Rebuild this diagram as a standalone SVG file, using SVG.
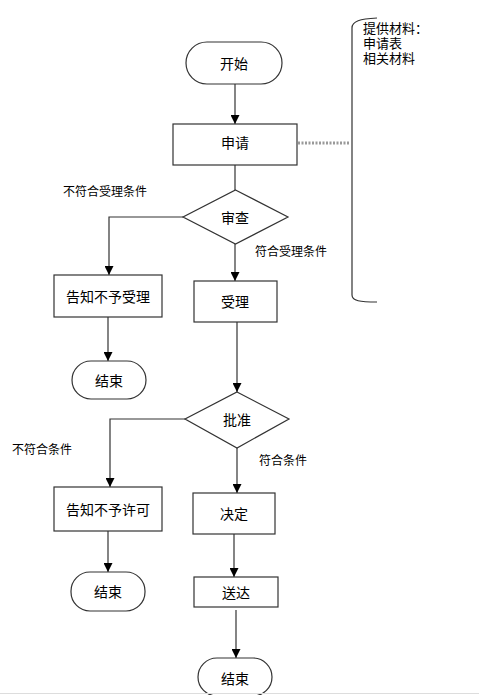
<svg xmlns="http://www.w3.org/2000/svg" width="479" height="695" viewBox="0 0 479 695">
<defs>
<marker id="ah" viewBox="0 0 10 10" refX="10" refY="5" markerWidth="9" markerHeight="9" markerUnits="userSpaceOnUse" orient="auto">
<path d="M0,0 L10,5 L0,10 Z" fill="#000"/>
</marker>
<style>
.n{fill:#fff;stroke:#333;stroke-width:1.2}
.t{font-family:"Noto Sans CJK SC","Noto Sans",sans-serif;font-size:14px;fill:#000;text-anchor:middle;dominant-baseline:central}
.l{font-family:"Noto Sans CJK SC","Noto Sans",sans-serif;font-size:12px;fill:#000}
.m{font-family:"Liberation Sans","Noto Sans CJK SC",sans-serif;font-size:13px;fill:#000}
.c{fill:none;stroke:#333;stroke-width:1.2}
.a{marker-end:url(#ah)}
</style>
</defs>
<rect width="479" height="695" fill="#fff"/>
<g id="connectors">
<path class="c a" d="M235,84 V124"/>
<path class="c a" d="M235,165 V212"/>
<path class="c a" d="M183,217 H109 V275"/>
<path class="c a" d="M235,244 V281"/>
<path class="c a" d="M108,317 V361"/>
<path class="c a" d="M237,322 V392"/>
<path class="c a" d="M185,419 H110 V487"/>
<path class="c a" d="M237,448 V493"/>
<path class="c a" d="M108,531 V572"/>
<path class="c a" d="M234,534 V577"/>
<path class="c a" d="M236,610 V658"/>
<path d="M298,143 H350" fill="none" stroke="#999" stroke-width="3" stroke-dasharray="2,1.5"/>
</g>
<g id="start"><rect class="n" x="186" y="42" width="96" height="42" rx="21"/><text class="t" x="234" y="63">开始</text></g>
<g id="apply"><rect class="n" x="173" y="124" width="124" height="41"/><text class="t" x="235" y="142">申请</text></g>
<g id="materials">
<path d="M377,18 C360,19 352,21 352,28 V295 C352,301 360,302 377,302" fill="none" stroke="#333" stroke-width="1.2"/>
<text class="m" x="363" y="33">提供材料：</text>
<text class="m" x="363" y="48">申请表</text>
<text class="m" x="363" y="63">相关材料</text>
</g>
<g id="review"><path class="n" d="M235.5,190 L288,217 L235.5,244 L183,217 Z"/><text class="t" x="235" y="217">审查</text></g>
<text class="l" x="63" y="196">不符合受理条件</text>
<text class="l" x="255" y="256">符合受理条件</text>
<g id="reject1"><rect class="n" x="54" y="275" width="108" height="42"/><text class="t" x="108" y="296">告知不予受理</text></g>
<g id="accept"><rect class="n" x="194" y="281" width="83" height="41"/><text class="t" x="235" y="301">受理</text></g>
<g id="end1"><rect class="n" x="72" y="361" width="74" height="38" rx="19"/><text class="t" x="109" y="380">结束</text></g>
<g id="approve"><path class="n" d="M237,392 L289,419 L237,448 L185,419 Z"/><text class="t" x="237" y="419">批准</text></g>
<text class="l" x="12" y="454">不符合条件</text>
<text class="l" x="259" y="465">符合条件</text>
<g id="reject2"><rect class="n" x="54" y="487" width="108" height="44"/><text class="t" x="108" y="509">告知不予许可</text></g>
<g id="decide"><rect class="n" x="193" y="493" width="82" height="41"/><text class="t" x="234" y="513">决定</text></g>
<g id="end2"><rect class="n" x="71" y="572" width="74" height="39" rx="19"/><text class="t" x="108" y="591">结束</text></g>
<g id="deliver"><rect class="n" x="194" y="577" width="84" height="30"/><text class="t" x="236" y="592">送达</text></g>
<g id="end3"><rect class="n" x="198" y="658" width="74" height="38" rx="19"/><text class="t" x="235" y="678">结束</text></g>
<line x1="0" y1="693.5" x2="479" y2="693.5" stroke="#ddd" stroke-width="1"/>
</svg>
